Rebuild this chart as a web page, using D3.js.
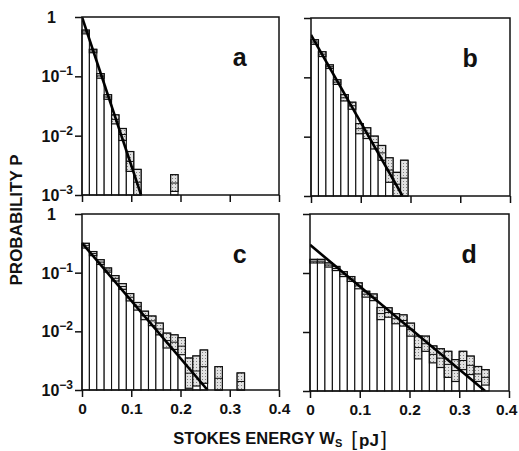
<!DOCTYPE html>
<html><head><meta charset="utf-8">
<script src="https://cdn.jsdelivr.net/npm/d3@7"></script>
<style>body{margin:0;background:#fff}svg{display:block}text{font-family:"Liberation Sans",Arial,Helvetica,sans-serif;font-weight:bold;fill:#111}</style>
</head><body><svg id="c" width="519" height="451"></svg>
<script>
const binWidth = 0.015;
const xTicks = [0, 0.1, 0.2, 0.3, 0.4];
const xTickLabels = ["0", "0.1", "0.2", "0.3", "0.4"];
const yTicks = [1, 0.1, 0.01, 0.001];
const yTickExp = [null, "−1", "−2", "−3"];
const panelNames = ["a", "b", "c", "d"];

// upper / lower edge of each histogram bin (probability), null = empty bin
const aHi = [0.60, 0.285, 0.111, 0.049, 0.0224, 0.0132, 0.0054, 0.0027, null, null, null, null, 0.0022];
const aLo = [0.52, 0.25, 0.093, 0.041, 0.0158, 0.0083, 0.0025, 0.001, null, null, null, null, 0.00115];
const bHi = [0.43, 0.27, 0.162, 0.091, 0.051, 0.038, 0.0166, 0.0141, 0.0102, 0.0071, 0.0044, 0.0025, 0.0040];
const bLo = [0.36, 0.224, 0.141, 0.076, 0.040, 0.029, 0.0112, 0.0093, 0.0062, 0.0040, 0.0017, 0.001, 0.001];
const cHi = [0.316, 0.229, 0.166, 0.120, 0.089, 0.065, 0.044, 0.031, 0.022, 0.0182, 0.0138, 0.0093, 0.0087, 0.0078, 0.0035, 0.0038, 0.0048, null, 0.0025, null, null, 0.00195];
const cLo = [0.263, 0.195, 0.138, 0.102, 0.072, 0.052, 0.033, 0.023, 0.0158, 0.0125, 0.0087, 0.0052, 0.0049, 0.0040, 0.00107, 0.00117, 0.0013, null, 0.001, null, null, 0.001];
const dHi = [0.170, 0.170, 0.148, 0.129, 0.105, 0.087, 0.068, 0.049, 0.044, 0.026, 0.0257, 0.0204, 0.0195, 0.0141, 0.0085, 0.0085, 0.0058, 0.0052, 0.0047, 0.0034, 0.0047, 0.0039, 0.0026, 0.0023];
const dLo = [0.148, 0.148, 0.126, 0.110, 0.087, 0.072, 0.054, 0.039, 0.034, 0.0162, 0.0178, 0.0138, 0.0126, 0.0085, 0.0035, 0.0047, 0.0030, 0.0025, 0.0017, 0.00145, 0.0023, 0.0019, 0.00145, 0.00126];

// exponential fit lines: [energy, probability] at both ends
const fitA = [[0, 1.0], [0.12, 0.001]];
const fitB = [[0, 0.52], [0.184, 0.001]];
const fitC = [[0, 0.32], [0.255, 0.001]];
const fitD = [[0, 0.30], [0.352, 0.001]];

const panels = [
  {name: "a", hi: aHi, lo: aLo, fit: fitA, x0: 82, x1: 279, y0: 17, y1: 195, left: true, bottom: false},
  {name: "b", hi: bHi, lo: bLo, fit: fitB, x0: 311, x1: 510, y0: 18, y1: 196, left: false, bottom: false},
  {name: "c", hi: cHi, lo: cLo, fit: fitC, x0: 82, x1: 279, y0: 214, y1: 390, left: true, bottom: true},
  {name: "d", hi: dHi, lo: dLo, fit: fitD, x0: 310, x1: 509, y0: 214, y1: 391, left: false, bottom: true}
];

const svg = d3.select("#c");
const defs = svg.append("defs");
const pat = defs.append("pattern").attr("id", "stip").attr("width", 3).attr("height", 3).attr("patternUnits", "userSpaceOnUse");
pat.append("rect").attr("width", 3).attr("height", 3).attr("fill", "#e2e2e2");
pat.append("rect").attr("x", 1).attr("y", 1).attr("width", 1).attr("height", 1).attr("fill", "#808080");

panels.forEach((p, pi) => {
  const x = d3.scaleLinear().domain([0, 0.4]).range([p.x0, p.x1]);
  const y = d3.scaleLog().domain([0.001, 1]).range([p.y1, p.y0]);
  const g = svg.append("g");
  defs.append("clipPath").attr("id", "clip" + pi).append("rect")
    .attr("x", p.x0).attr("y", p.y0).attr("width", p.x1 - p.x0).attr("height", p.y1 - p.y0);

  // bars
  const bars = g.append("g");
  p.hi.forEach((hi, i) => {
    if (hi == null) return;
    const lo = p.lo[i];
    const xa = x(i * binWidth), xb = x((i + 1) * binWidth);
    bars.append("rect").attr("x", xa).attr("y", y(hi)).attr("width", xb - xa).attr("height", y(0.001) - y(hi))
      .attr("fill", "#fff").attr("stroke", "#111").attr("stroke-width", 1.1);
    bars.append("rect").attr("x", xa).attr("y", y(hi)).attr("width", xb - xa).attr("height", y(lo) - y(hi))
      .attr("fill", "url(#stip)").attr("stroke", "#111").attr("stroke-width", 1.2);
    const ym = (y(hi) + y(lo)) / 2;
    bars.append("line").attr("x1", xa).attr("x2", xb).attr("y1", ym).attr("y2", ym)
      .attr("stroke", "#111").attr("stroke-width", 1);
  });

  // fit line
  g.append("path").attr("clip-path", "url(#clip" + pi + ")")
    .attr("d", d3.line().x(d => x(d[0])).y(d => y(d[1]))(p.fit))
    .attr("stroke", "#000").attr("stroke-width", 2.6).attr("fill", "none");

  // frame
  g.append("rect").attr("x", p.x0).attr("y", p.y0).attr("width", p.x1 - p.x0).attr("height", p.y1 - p.y0)
    .attr("fill", "none").attr("stroke", "#111").attr("stroke-width", 1.5);

  // x axis
  const xa = g.append("g").attr("transform", `translate(0,${p.y1})`)
    .call(d3.axisBottom(x).tickValues(xTicks).tickSize(7).tickFormat((d, i) => p.bottom ? xTickLabels[i] : ""));
  xa.select(".domain").remove();
  xa.selectAll("line").attr("stroke", "#111").attr("stroke-width", 1.5);
  xa.selectAll("text").attr("font-size", 15.5).attr("dy", "0.9em").attr("fill", "#111");
  if (p.name === "d") {
    xa.selectAll("text").filter(d => d === 0.4).attr("text-anchor", "end").attr("dx", 8);
  }

  // y axis
  const ya = g.append("g").attr("transform", `translate(${p.x0},0)`)
    .call(d3.axisLeft(y).tickValues(yTicks).tickSize(7).tickFormat(""));
  ya.select(".domain").remove();
  ya.selectAll("line").attr("stroke", "#111").attr("stroke-width", 1.5);
  if (p.left) {
    yTicks.forEach((t, i) => {
      const tx = g.append("text").attr("y", y(t) + 6).attr("font-size", 16);
      if (yTickExp[i] == null) {
        tx.attr("x", 56).attr("text-anchor", "end").text("1");
      } else {
        tx.attr("x", 73).attr("text-anchor", "end");
        tx.append("tspan").text("10");
        tx.append("tspan").attr("font-size", 12).attr("dy", -7).text(yTickExp[i]);
      }
    });
  }

  // panel letter
  g.append("text").attr("x", x(0.32)).attr("y", (p.y0 + 49)).attr("text-anchor", "middle")
    .attr("font-size", 25).text(p.name);
});

// axis titles
const xt = svg.append("text").attr("x", 280).attr("y", 444).attr("text-anchor", "middle").attr("font-size", 16.5);
xt.append("tspan").text("STOKES ENERGY W");
xt.append("tspan").attr("font-size", 11).attr("dy", 3).text("S");
xt.append("tspan").attr("dy", -1).attr("dx", 9).attr("font-size", 21).attr("font-weight", "normal").text("[");
xt.append("tspan").attr("dx", 2).attr("font-size", 17).text("pJ");
xt.append("tspan").attr("dx", 2).attr("font-size", 21).attr("font-weight", "normal").text("]");

svg.append("text").attr("transform", "translate(22,220) rotate(-90)").attr("text-anchor", "middle")
  .attr("font-size", 17).text("PROBABILITY P");
</script></body></html>
